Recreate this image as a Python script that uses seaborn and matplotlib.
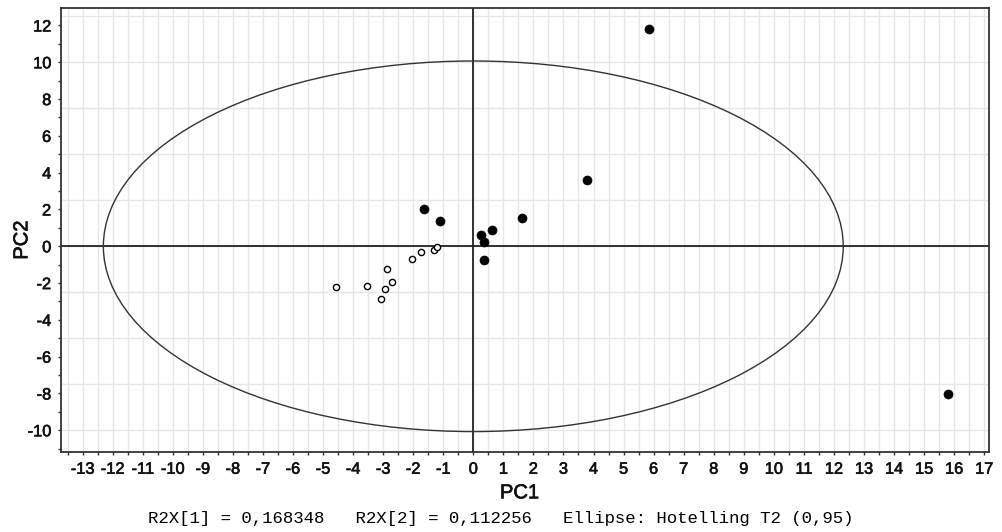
import numpy as np
import pandas as pd
import matplotlib
matplotlib.use("Agg")
import matplotlib.pyplot as plt
import matplotlib.patheffects as pe
from matplotlib.patches import Ellipse
from matplotlib.ticker import MultipleLocator
import seaborn as sns

# PCA score coordinates for the two sample groups
group_a_pc1 = [-4.57, -3.54, -2.95, -3.07, -2.69, -2.87, -2.05, -1.73, -1.32, -1.20]
group_a_pc2 = [-2.23, -2.16, -2.34, -2.88, -1.96, -1.22, -0.67, -0.29, -0.20, -0.02]
group_b_pc1 = [-1.63, -1.12, 0.27, 0.61, 0.34, 0.36, 1.62, 3.78, 5.83, 15.78]
group_b_pc2 = [2.03, 1.36, 0.63, 0.91, 0.24, -0.76, 1.54, 3.59, 11.80, -8.04]

# Hotelling T2 (0.95) ellipse semi-axes
t2_semi_pc1 = 12.31
t2_semi_pc2 = 10.07

r2x = ["0,168348", "0,112256"]
footer = f"R2X[1] = {r2x[0]}   R2X[2] = {r2x[1]}   Ellipse: Hotelling T2 (0,95)"

df = pd.DataFrame({
    "PC1": group_a_pc1 + group_b_pc1,
    "PC2": group_a_pc2 + group_b_pc2,
    "group": ["A"] * len(group_a_pc1) + ["B"] * len(group_b_pc1),
})

sns.set_theme(style="white")
plt.rcParams["font.family"] = ["Liberation Sans", "DejaVu Sans"]
plt.rcParams["axes.unicode_minus"] = False

fig = plt.figure(figsize=(10.03, 5.32), dpi=100)
ax = fig.add_axes([61 / 1003, 1 - 452 / 532, 928 / 1003, 444 / 532])

ax.set_xlim(-13.72, 17.16)
ax.set_ylim(-11.18, 12.95)

# light grid: verticals every 0.5, horizontals every 2.5
for gx in np.arange(-13.5, 17.1, 0.5):
    ax.axvline(gx, color="#e6e6e6", lw=1.0, zorder=0)
for gy in np.arange(-10, 12.6, 2.5):
    ax.axhline(gy, color="#e6e6e6", lw=1.0, zorder=0)

ax.axhline(0, color="#222222", lw=1.3, zorder=1)
ax.axvline(0, color="#222222", lw=1.3, zorder=1)

ax.add_patch(Ellipse((0, 0), 2 * t2_semi_pc1, 2 * t2_semi_pc2,
                     fill=False, edgecolor="#333333", lw=1.0, zorder=2))

sns.scatterplot(data=df[df.group == "A"], x="PC1", y="PC2", ax=ax,
                s=20, marker="o", facecolor="white", edgecolor="black",
                linewidth=1.0, zorder=3, legend=False)
sns.scatterplot(data=df[df.group == "B"], x="PC1", y="PC2", ax=ax,
                s=42, marker="o", color="black", edgecolor="black",
                linewidth=0.5, zorder=3, legend=False)

ax.xaxis.set_major_locator(MultipleLocator(1))
ax.xaxis.set_minor_locator(MultipleLocator(0.5))
ax.yaxis.set_major_locator(MultipleLocator(2))
ax.yaxis.set_minor_locator(MultipleLocator(1))
ax.set_xticks(np.arange(-13, 18, 1))
ax.set_yticks(np.arange(-10, 13, 2))
ax.tick_params(which="both", direction="out", length=2.5, width=1.0,
               color="#333333", bottom=True, left=True, top=False, right=False)
ax.tick_params(which="major", labelsize=11.8, pad=4.5, labelcolor="#111111")

for side, sp in ax.spines.items():
    sp.set_visible(True)
    sp.set_color("#333333")
    sp.set_linewidth(1.3)

ax.set_xlabel("PC1", fontsize=14.5, color="#111111", va="center")
ax.set_ylabel("PC2", fontsize=14.5, color="#111111",
              va="center", ha="center", rotation_mode="default")
ax.xaxis.set_label_coords(0.494, -0.092)
ax.yaxis.set_label_coords(-0.0422, 0.477)

# slightly heavier strokes on the axis text
heavy = [pe.withStroke(linewidth=0.45, foreground="#111111")]
for lab in ax.get_xticklabels() + ax.get_yticklabels():
    lab.set_path_effects(heavy)
ax.xaxis.label.set_path_effects(heavy)
ax.yaxis.label.set_path_effects(heavy)

fig.text(501 / 1003, 1 - 518 / 532, footer, ha="center", va="center",
         family=["Liberation Mono", "DejaVu Sans Mono"], fontsize=12.5,
         color="black")

fig.savefig("out.png", dpi=100, facecolor="white")
